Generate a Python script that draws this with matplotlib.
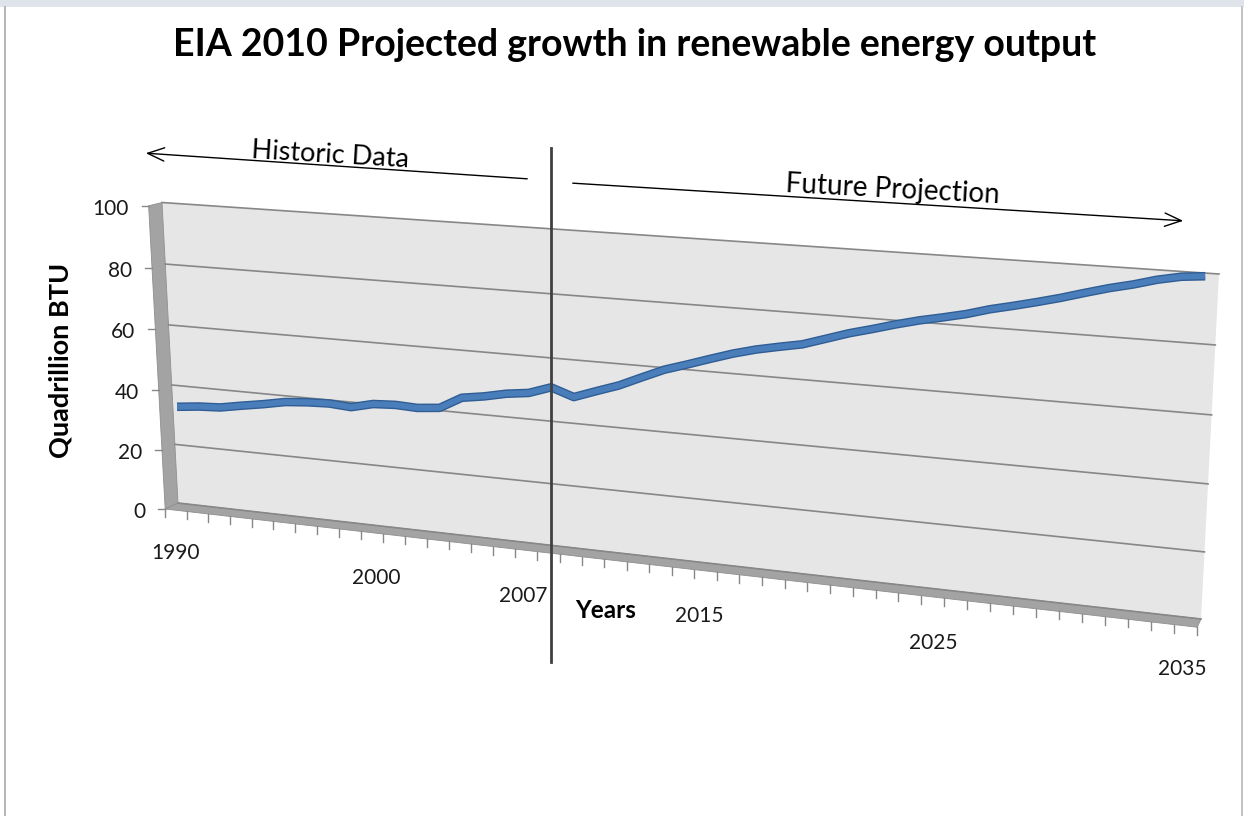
import numpy as np
import matplotlib
matplotlib.use("Agg")
import matplotlib.pyplot as plt
import matplotlib.patheffects as pe
from matplotlib.patches import Polygon, Rectangle
from matplotlib.transforms import Transform

plt.rcParams['font.family'] = ['Lato', 'DejaVu Sans']

# ---- data (quadrillion BTU) ----
hist_years = list(range(1990, 2008))
hist_btu = [33.9, 34.7, 35.1, 36.4, 37.6, 39.0, 39.6, 39.9, 39.4, 41.1,
            41.5, 41.2, 41.9, 45.8, 46.9, 48.4, 49.3, 51.7]
proj_years = list(range(2008, 2036))
proj_btu = [49.3, 51.8, 54.2, 57.3, 60.3, 62.5, 64.8, 67.0, 68.8, 70.2,
            71.5, 73.7, 75.9, 77.7, 79.6, 81.3, 82.7, 84.2, 86.1, 87.6,
            89.2, 90.9, 92.8, 94.6, 96.1, 97.9, 99.2, 99.8]
y_ticks = [0, 20, 40, 60, 80, 100]
x_labels = [1990, 2000, 2007, 2015, 2025, 2035]

years = hist_years + proj_years
btu = hist_btu + proj_btu

# ---- 3D perspective set-up (Excel style walls) ----
U0, U1 = years[0] - 0.5, years[-1] + 0.5
VMAX = 100.0
W, Hpx = 1244, 816
WARP = 0.11   # Excel's horizontal foreshortening is weaker than pure projective


def homography(src, dst):
    A, b = [], []
    for (x, y), (X, Y) in zip(src, dst):
        A.append([x, y, 1, 0, 0, 0, -X * x, -X * y])
        A.append([0, 0, 0, x, y, 1, -Y * x, -Y * y])
        b += [X, Y]
    h = np.linalg.solve(np.array(A, float), np.array(b, float))
    return np.append(h, 1).reshape(3, 3)


# back wall corners on screen
HB = homography([(0, 0), (1, 0), (1, 1), (0, 1)],
                [(178, 503), (1201, 619), (1219, 274), (162, 202.5)])

# depth direction (front edges of floor / side wall)
rows, rhs = [], []
for (s, t), (xf, yf) in zip([(0, 0), (1, 0), (0, 1)],
                            [(166, 510), (1197, 627), (148, 205)]):
    X, Y, Z = HB @ [s, t, 1]
    rows += [[1, 0, -xf], [0, 1, -yf]]
    rhs += [xf * Z - X, yf * Z - Y]
DEPTH = np.linalg.lstsq(np.array(rows), np.array(rhs), rcond=None)[0]


class Persp(Transform):
    input_dims = output_dims = 2
    is_separable = False
    has_inverse = False

    def __init__(self, fn):
        super().__init__()
        self.fn = fn

    def transform_non_affine(self, xy):
        xy = np.asarray(xy, float).reshape(-1, 2)
        u, v, w = self.fn(xy[:, 0], xy[:, 1])
        s = (u - U0) / (U1 - U0)
        s = s + WARP * s * (1 - s)
        t = v / VMAX
        w = np.broadcast_to(w, s.shape)
        P = HB @ np.vstack([s, t, np.ones_like(s)]) + np.outer(DEPTH, w)
        return np.column_stack([P[0] / P[2], P[1] / P[2]])


fig = plt.figure(figsize=(W / 100, Hpx / 100), dpi=100)
ax = fig.add_axes([0, 0, 1, 1])
ax.set_xlim(0, W)
ax.set_ylim(Hpx, 0)
ax.axis('off')

p_wall = Persp(lambda u, v: (u, v, 0.0))
p_series = Persp(lambda u, v: (u, v, 0.5))
p_front = Persp(lambda u, v: (u, v, 1.0))
p_floor = Persp(lambda u, w: (u, np.zeros_like(u), w))
p_side = Persp(lambda w, v: (np.full_like(v, U0), v, w))
wall = p_wall + ax.transData
series = p_series + ax.transData
floor = p_floor + ax.transData
side = p_side + ax.transData


def at(p, a, b):
    return p.transform(np.array([[a, b]], float))[0]


# window frame
ax.add_patch(Rectangle((0, 0), W, 7, color='#dfe4ea', lw=0))
ax.plot([5, 5], [7, Hpx], color='#a9a9a9', lw=1.2)
ax.plot([1242, 1242], [7, Hpx], color='#b8b8b8', lw=1.2)

# walls
ax.add_patch(Polygon([(U0, 0), (U1, 0), (U1, VMAX), (U0, VMAX)],
                     closed=True, transform=wall, facecolor='#e6e6e6',
                     edgecolor='none'))
ax.add_patch(Polygon([(0, 0), (1, 0), (1, VMAX), (0, VMAX)], closed=True,
                     transform=side, facecolor='#a3a3a3', edgecolor='#8f8f8f',
                     lw=0.6))
ax.add_patch(Polygon([(U0, 0), (U1, 0), (U1, 1), (U0, 1)], closed=True,
                     transform=floor, facecolor='#a3a3a3', edgecolor='#8f8f8f',
                     lw=0.6))

# gridlines on back wall
for v in y_ticks:
    ax.plot([U0, U1], [v, v], transform=wall, color='#878787', lw=1.2)

# y ticks and labels
for v in y_ticks:
    x, y = at(p_front, U0, v)
    ax.plot([x - 7, x], [y, y], color='#878787', lw=1)
    ax.text(x - 20, y + 3, str(v), ha='right', va='center', fontsize=15,
            color='#1a1a1a')

# x ticks along floor front edge
for k in range(len(years) + 1):
    x, y = at(p_front, U0 + k, 0)
    ax.plot([x, x], [y, y + 8], color='#878787', lw=1)

label_dx = [0, -17, -25, -29, -22, -3]
for yr, dx in zip(x_labels, label_dx):
    x, y = at(p_front, yr, 0)
    ax.text(x + dx, y + 43, str(yr), ha='center', va='center', fontsize=15,
            color='#1a1a1a')

# data ribbon
ax.plot(years, btu, transform=series, color='#4a7ebb', lw=4.2,
        solid_joinstyle='round', solid_capstyle='butt',
        path_effects=[pe.Stroke(linewidth=6.2, foreground='#2f5d94'),
                      pe.Normal()])

# divider between history and projection
xd, _ = at(p_series, hist_years[-1], hist_btu[-1])
ax.plot([xd, xd], [148, 662], color='#404040', lw=2)

# annotations
ax.annotate('', xy=(143, 153), xytext=(530, 179),
            arrowprops=dict(arrowstyle='->,head_length=1.0,head_width=0.4',
                            lw=1, color='black', mutation_scale=12))
ax.annotate('', xy=(1186, 221), xytext=(570, 183),
            arrowprops=dict(arrowstyle='->,head_length=1.0,head_width=0.4',
                            lw=1, color='black', mutation_scale=12))
ax.text(330, 155, 'Historic Data', ha='center', va='center', fontsize=19.5,
        rotation=-3.4, rotation_mode='anchor')
ax.text(893, 190, 'Future Projection', ha='center', va='center',
        fontsize=20, rotation=-3.0, rotation_mode='anchor')

# titles
ax.text(635, 45, 'EIA 2010 Projected growth in renewable energy output',
        ha='center', va='center', fontsize=27, fontweight='bold')
ax.text(60, 360, 'Quadrillion BTU', ha='center', va='center', fontsize=19.5,
        fontweight='bold', rotation=90)
ax.text(606, 610, 'Years', ha='center', va='center', fontsize=17.5,
        fontweight='bold')

fig.savefig('out.png', dpi=100)
